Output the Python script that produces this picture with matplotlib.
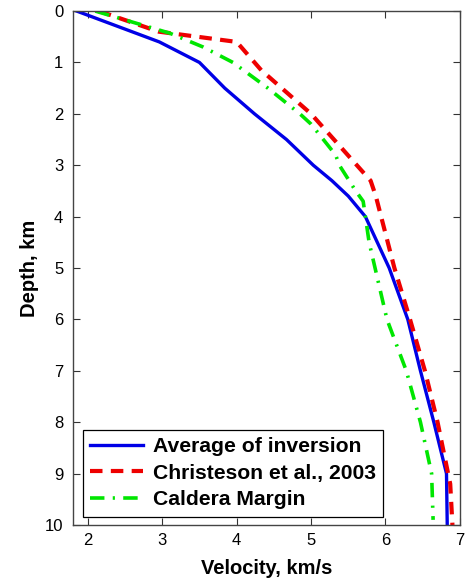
import matplotlib
matplotlib.use("Agg")
import matplotlib.pyplot as plt

plt.rcParams['font.family'] = ['Liberation Sans', 'DejaVu Sans']

avg_depth = [0, 0.6, 1.0, 1.5, 2.0, 2.5, 2.75, 3.0, 3.3, 3.6, 4.0, 5.0, 6.0, 7.0, 8.0, 9.0, 10.0]
avg_vel = [1.85, 2.96, 3.5, 3.84, 4.24, 4.67, 4.85, 5.03, 5.28, 5.5, 5.73, 6.05, 6.3, 6.47, 6.65, 6.82, 6.83]

chr_depth = [0, 0.4, 0.6, 1.15, 2.0, 3.3, 3.6, 5.0, 6.0, 7.0, 8.0, 9.2, 10.0]
chr_vel = [2.15, 2.95, 4.0, 4.33, 5.0, 5.8, 5.87, 6.12, 6.33, 6.53, 6.7, 6.87, 6.9]

cal_depth = [0, 0.43, 0.7, 1.0, 1.5, 2.0, 2.2, 2.8, 3.0, 3.5, 3.7, 4.0, 4.5, 6.0, 7.0, 8.0, 9.0, 9.9]
cal_vel = [2.1, 3.1, 3.55, 3.95, 4.42, 4.85, 5.0, 5.33, 5.38, 5.6, 5.7, 5.73, 5.78, 6.02, 6.28, 6.47, 6.62, 6.64]

labels = ["Average of inversion", "Christeson et al., 2003", "Caldera Margin"]

fig = plt.figure(figsize=(4.65, 5.83), dpi=100)
ax = fig.add_axes([0.157, 0.0995, 0.832, 0.8815])

ax.plot(avg_vel, avg_depth, color='#0000e6', lw=2.4, ls='-', label=labels[0])
ax.plot(chr_vel, chr_depth, color='#ee0000', lw=3.0, ls=(0, (3, 2.0)), label=labels[1])
ax.plot(cal_vel, cal_depth, color='#00e600', lw=2.6, ls=(0, (4, 2.3, 0.6, 2.3)), label=labels[2])

ax.set_xlim(1.8, 7)
ax.set_ylim(10, 0)
ax.set_xticks([2, 3, 4, 5, 6, 7])
ax.set_yticks(range(0, 11))
ax.tick_params(direction='in', top=True, right=True, labelsize=12, length=5, width=0.8, colors='#333333')
ax.tick_params(axis='y', pad=7)
ax.tick_params(axis='x', pad=6)
ax.tick_params(labelcolor='black')
for s in ax.spines.values():
    s.set_color('#444444')
    s.set_linewidth(1.0)

ax.set_xlabel('Velocity, km/s', fontsize=14.5, fontweight='bold', labelpad=8)
ax.set_ylabel('Depth, km', fontsize=14.5, fontweight='bold', labelpad=4)

leg = ax.legend(loc='lower left', bbox_to_anchor=(0.026, 0.016), prop={'size': 15.2, 'weight': 'bold'},
                fancybox=False, framealpha=1, edgecolor='black', handlelength=2.5,
                borderpad=0.35, labelspacing=0.36, handletextpad=0.45, borderaxespad=0)
leg.get_frame().set_linewidth(0.9)

fig.savefig('out.png', dpi=100)
